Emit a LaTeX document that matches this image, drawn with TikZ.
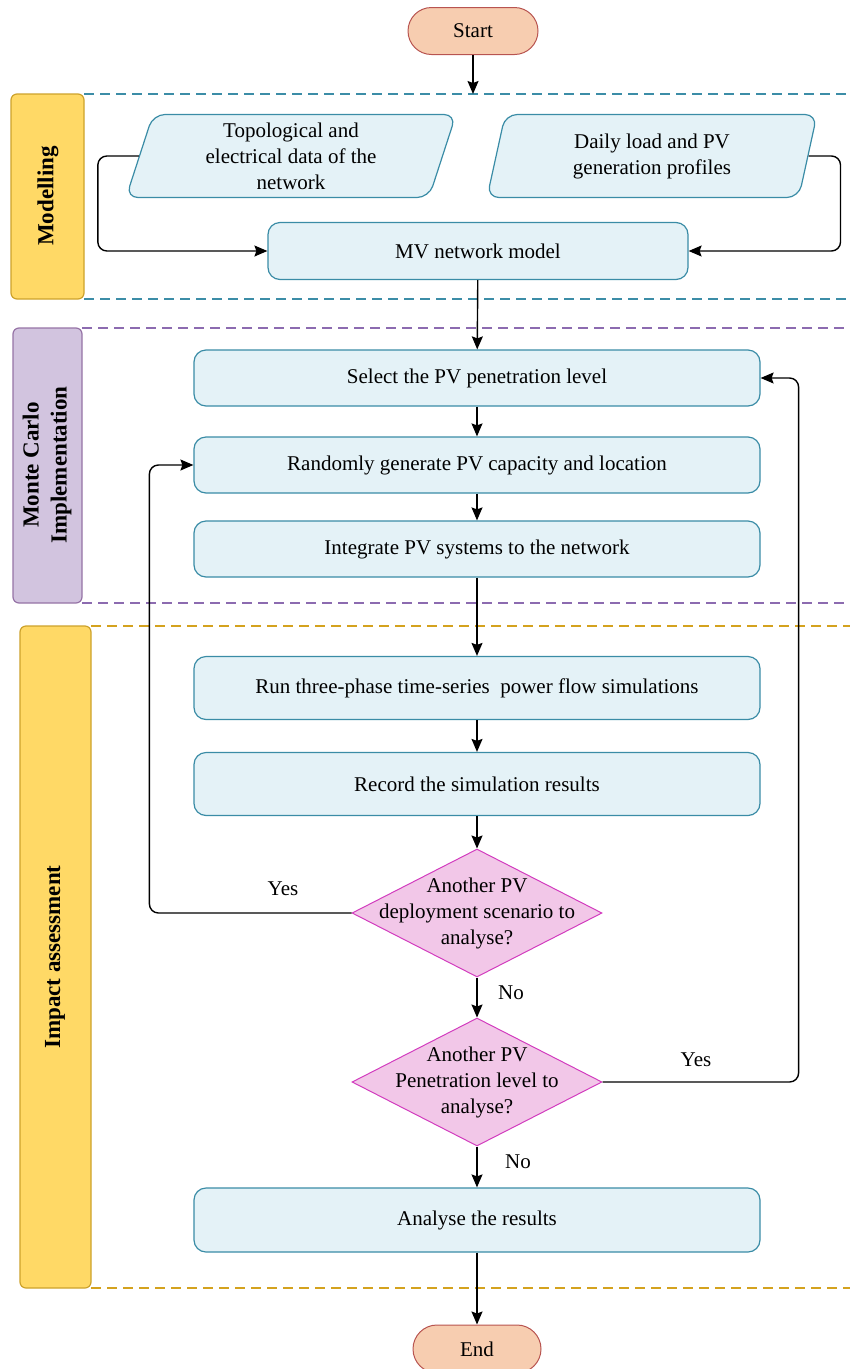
\documentclass[tikz,border=0pt]{standalone}
\usepackage{fontspec}
\setmainfont{Liberation Serif}
\usetikzlibrary{shapes.geometric,shapes.misc,arrows.meta}

\definecolor{termfill}{HTML}{F7CDB0}
\definecolor{termdraw}{HTML}{B85450}
\definecolor{boxfill}{HTML}{E4F2F7}
\definecolor{boxdraw}{HTML}{3A8CA6}
\definecolor{decfill}{HTML}{F2C7E8}
\definecolor{decdraw}{HTML}{D23CBE}
\definecolor{yellfill}{HTML}{FFD966}
\definecolor{yelldraw}{HTML}{CDA22B}
\definecolor{purpfill}{HTML}{D2C4DF}
\definecolor{purpdraw}{HTML}{9673A6}
\definecolor{tealdash}{HTML}{3C8DA7}
\definecolor{purpdash}{HTML}{8C6BB0}
\definecolor{golddash}{HTML}{D4A21E}

\begin{document}
\begin{tikzpicture}[x=1pt,y=-1pt]
\tikzstyle{every node}+=[font=\fontsize{21}{26}\selectfont, align=center]
\tikzstyle{term}=[rounded rectangle, draw=termdraw, fill=termfill, line width=1pt, minimum width=130pt, minimum height=47pt, inner sep=0pt]
\tikzstyle{proc}=[rectangle, rounded corners=12pt, draw=boxdraw, fill=boxfill, line width=1.2pt, minimum width=566pt, minimum height=56pt, inner sep=0pt]
\tikzstyle{data}=[trapezium, trapezium left angle=68, trapezium right angle=112, trapezium stretches body, rounded corners=12pt, draw=boxdraw, fill=boxfill, line width=1.2pt, minimum width=330pt, minimum height=83pt, inner sep=0pt]
\tikzstyle{decide}=[diamond, draw=decdraw, fill=decfill, line width=1pt, minimum width=250pt, minimum height=128pt, inner sep=0pt]
\tikzstyle{lane}=[rounded corners=6pt, line width=1.2pt]
\tikzstyle{lanetext}=[rotate=90, font=\fontsize{23}{28}\selectfont\bfseries]
\tikzstyle{flow}=[-{Stealth[length=13pt,width=11pt,inset=2pt]}, line width=1.4pt, rounded corners=9pt]
\tikzstyle{sep}=[dash pattern=on 10pt off 6pt, line width=1.4pt]

\useasboundingbox (0,0) rectangle (850,1369);

% swimlanes
\draw[lane, draw=yelldraw, fill=yellfill] (11,94) rectangle (84,299);
\draw[lane, draw=purpdraw, fill=purpfill] (13,328) rectangle (82,603);
\draw[lane, draw=yelldraw, fill=yellfill] (20,626) rectangle (91,1288);
\node[lanetext] (lblmod) at (48,196) {Modelling};
\node[lanetext] (lblmc) at (47,465) {Monte Carlo\\Implementation};
\node[lanetext] (lblimp) at (55,957) {Impact assessment};
\draw[sep, tealdash] (84,94) -- (850,94);
\draw[sep, tealdash] (84,299) -- (850,299);
\draw[sep, purpdash] (82,328) -- (850,328);
\draw[sep, purpdash] (82,603) -- (850,603);
\draw[sep, golddash] (91,626) -- (850,626);
\draw[sep, golddash] (91,1288) -- (850,1288);

% nodes
\node[term] (start) at (473,31) {Start};
\coordinate (modin) at (473,94);
\node[data] (topo) at (291,156) {Topological and\\electrical data of the\\network};
\node[data] (prof) at (652,156) {Daily load and PV\\generation profiles};
\node[proc, minimum width=420pt, minimum height=57pt] (mv) at (478,251) {MV network model};
\node[proc] (sel) at (477,378) {Select the PV penetration level};
\node[proc] (rand) at (477,465) {Randomly generate PV capacity and location};
\node[proc] (integ) at (477,549) {Integrate PV systems to the network};
\node[proc, minimum height=63pt] (run) at (477,688) {Run three-phase time-series\ \ power flow simulations};
\node[proc, minimum height=63pt] (rec) at (477,784) {Record the simulation results};
\node[decide, label={[align=center]center:Another PV\\deployment scenario to\\analyse?}] (scen) at (477,913) {};
\node[decide, label={[align=center]center:Another PV\\Penetration level to\\analyse?}] (pen) at (477,1082) {};
\node[proc, minimum height=64pt] (ana) at (477,1220) {Analyse the results};
\node[term, minimum width=128pt, minimum height=48pt] (end) at (477,1349) {End};

% connectors
\draw[flow] (start) -- (modin);
\draw[flow] (topo.west) -- ++(-41,0) |- (mv.west);
\draw[flow] (prof.east) -- ++(32,0) |- (mv.east);
\draw[flow] (mv) -- (sel);
\draw[flow] (sel) -- (rand);
\draw[flow] (rand) -- (integ);
\draw[flow] (integ) -- (run);
\draw[flow] (run) -- (rec);
\draw[flow] (rec) -- (scen);
\draw[flow] (scen.west) -| ([xshift=-44pt]rand.west) -- (rand.west);
\draw[flow] (scen) -- (pen);
\draw[flow] (pen.east) -| ([xshift=38pt]sel.east) -- (sel.east);
\draw[flow] (pen) -- (ana);
\draw[flow] (ana) -- (end);
\node (yes1) at (283,889) {Yes};
\node (no1) at (511,993) {No};
\node (yes2) at (696,1060) {Yes};
\node (no2) at (518,1162) {No};
\end{tikzpicture}
\end{document}
